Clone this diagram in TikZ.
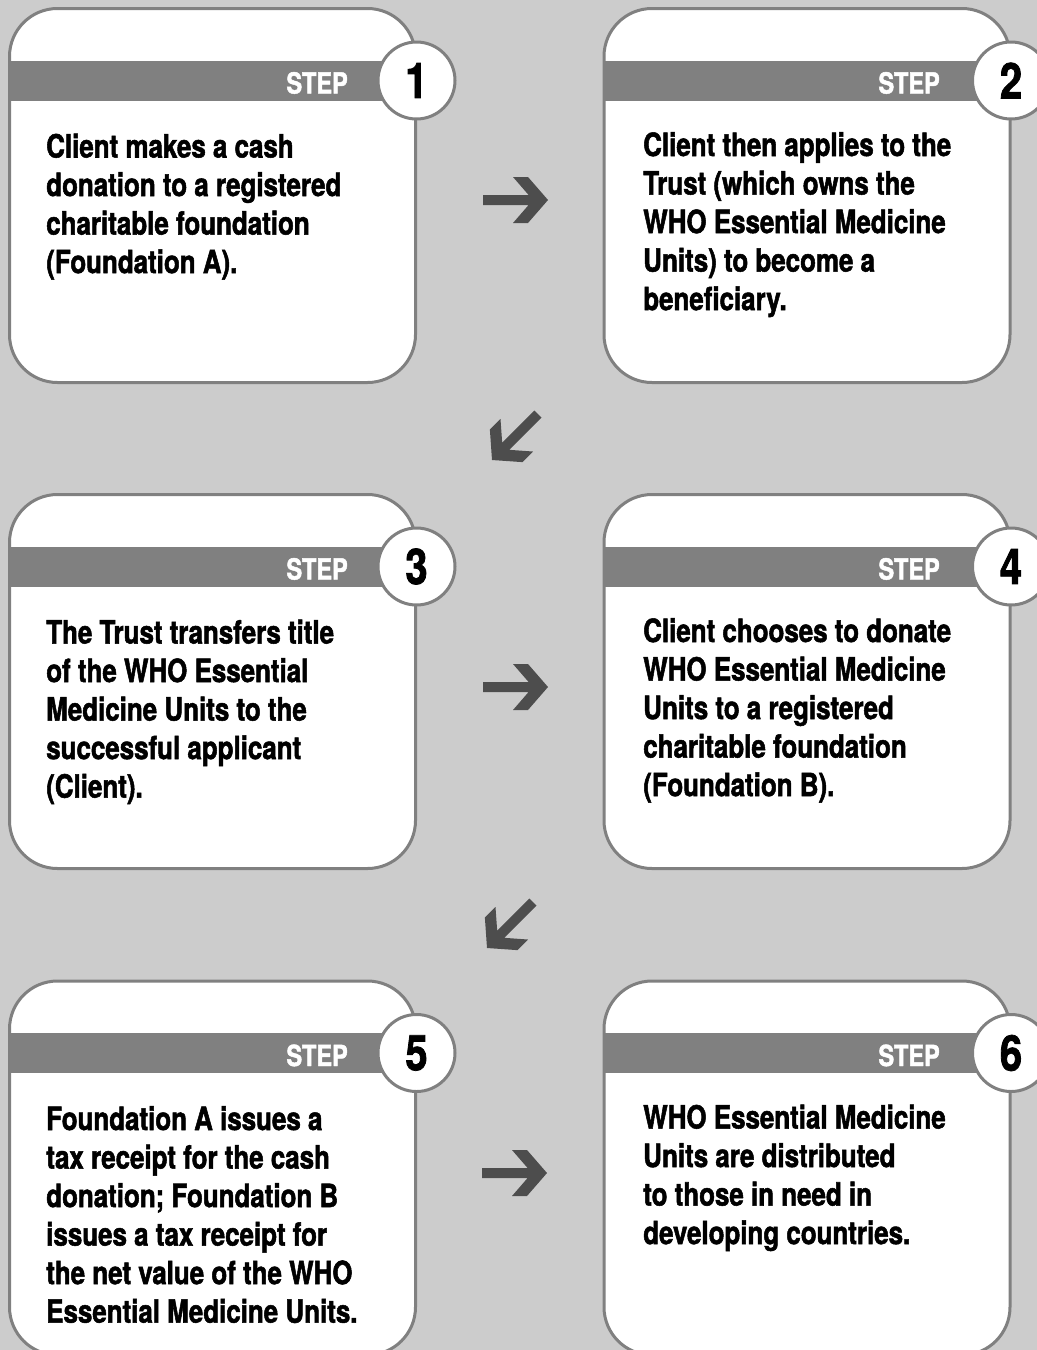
\documentclass[tikz,border=0pt]{standalone}
\usepackage{fontspec}
\newfontfamily\condfont{texgyreheros-bold.otf}[FakeStretch=0.81, FakeBold=1.6]
\definecolor{bggray}{HTML}{CCCCCC}
\definecolor{linegray}{HTML}{808080}
\definecolor{arrowgray}{HTML}{4D4D4D}

\begin{document}
\begin{tikzpicture}[x=0.75pt, y=-0.75pt,
  card/.style={draw=linegray, fill=white, line width=2.25pt,
    rounded corners=36pt, minimum width=304.5pt, minimum height=280.5pt},
  band/.style={fill=linegray},
  badge/.style={circle, draw=linegray, fill=white, line width=2.25pt,
    minimum size=57.75pt, inner sep=0pt,
    font=\condfont\fontsize{37}{37}\selectfont},
  steplabel/.style={anchor=base east, inner sep=0pt, text=white,
    font=\condfont\fontsize{21.75}{26}\selectfont},
  desc/.style={anchor=base west, inner sep=0pt,
    font=\condfont\fontsize{24}{28.9}\selectfont},
  pics/fwdarrow/.style={code={
    \fill[arrowgray] (0,0) -- (-20,-23) -- (-35,-23) -- (-19.4,-5) -- (-65,-5)
      -- (-65,5) -- (-19.4,5) -- (-35,23) -- (-20,23) -- cycle;}}
]

% ── Fondo ─────────────────────────────────────────────────────
\useasboundingbox (0,0) rectangle (1037,1350);
\fill[bggray] (0,0) rectangle (1037,1350);
\clip (0,0) rectangle (1037,1350);

% ── Step 1 ────────────────────────────────────────────────────
\node[card] (box1) at (212.5,195.5) {};
\fill[band] (9.5,60.5) rectangle (415.5,100.5);
\node[badge] (num1) at (416.5,80.5) {1};
\node[steplabel] (step1) at (348,93.5) {STEP};
\node[desc] (txt1) at (46,157.5) {\parbox[t]{260pt}{\raggedright
    Client makes a cash\\donation to a registered\\charitable foundation\\(Foundation A).}};

% ── Step 2 ────────────────────────────────────────────────────
\node[card] (box2) at (807,195.5) {};
\fill[band] (604,60.5) rectangle (1010,100.5);
\node[badge] (num2) at (1011,80.5) {2};
\node[steplabel] (step2) at (940,93.5) {STEP};
\node[desc] (txt2) at (643,156) {\parbox[t]{260pt}{\raggedright
    Client then applies to the\\Trust (which owns the\\WHO Essential Medicine\\Units) to become a\\beneficiary.}};

% ── Step 3 ────────────────────────────────────────────────────
\node[card] (box3) at (212.5,681.5) {};
\fill[band] (9.5,546.5) rectangle (415.5,586.5);
\node[badge] (num3) at (416.5,566.5) {3};
\node[steplabel] (step3) at (348,579.5) {STEP};
\node[desc] (txt3) at (46,643.5) {\parbox[t]{260pt}{\raggedright
    The Trust transfers title\\of the WHO Essential\\Medicine Units to the\\successful applicant\\(Client).}};

% ── Step 4 ────────────────────────────────────────────────────
\node[card] (box4) at (807,681.5) {};
\fill[band] (604,546.5) rectangle (1010,586.5);
\node[badge] (num4) at (1011,566.5) {4};
\node[steplabel] (step4) at (940,579.5) {STEP};
\node[desc] (txt4) at (643,642) {\parbox[t]{260pt}{\raggedright
    Client chooses to donate\\WHO Essential Medicine\\Units to a registered\\charitable foundation\\(Foundation B).}};

% ── Step 5 ────────────────────────────────────────────────────
\node[card] (box5) at (212.5,1168) {};
\fill[band] (9.5,1033) rectangle (415.5,1073);
\node[badge] (num5) at (416.5,1053) {5};
\node[steplabel] (step5) at (348,1066) {STEP};
\node[desc] (txt5) at (46,1130) {\parbox[t]{260pt}{\raggedright
    Foundation A issues a\\tax receipt for the cash\\donation; Foundation B\\issues a tax receipt for\\the net value of the WHO\\Essential Medicine Units.}};

% ── Step 6 ────────────────────────────────────────────────────
\node[card] (box6) at (807,1168) {};
\fill[band] (604,1033) rectangle (1010,1073);
\node[badge] (num6) at (1011,1053) {6};
\node[steplabel] (step6) at (940,1066) {STEP};
\node[desc] (txt6) at (643,1128.5) {\parbox[t]{260pt}{\raggedright
    WHO Essential Medicine\\Units are distributed\\to those in need in\\developing countries.}};

% ── Flechas entre pasos ───────────────────────────────────────
\pic (arrow12) at (548,200) {fwdarrow};
\pic[rotate=225] (arrow23) at (492,460) {fwdarrow};
\pic (arrow34) at (548,687) {fwdarrow};
\pic[rotate=225] (arrow45) at (487,948) {fwdarrow};
\pic (arrow56) at (547,1173) {fwdarrow};

\end{tikzpicture}
\end{document}
